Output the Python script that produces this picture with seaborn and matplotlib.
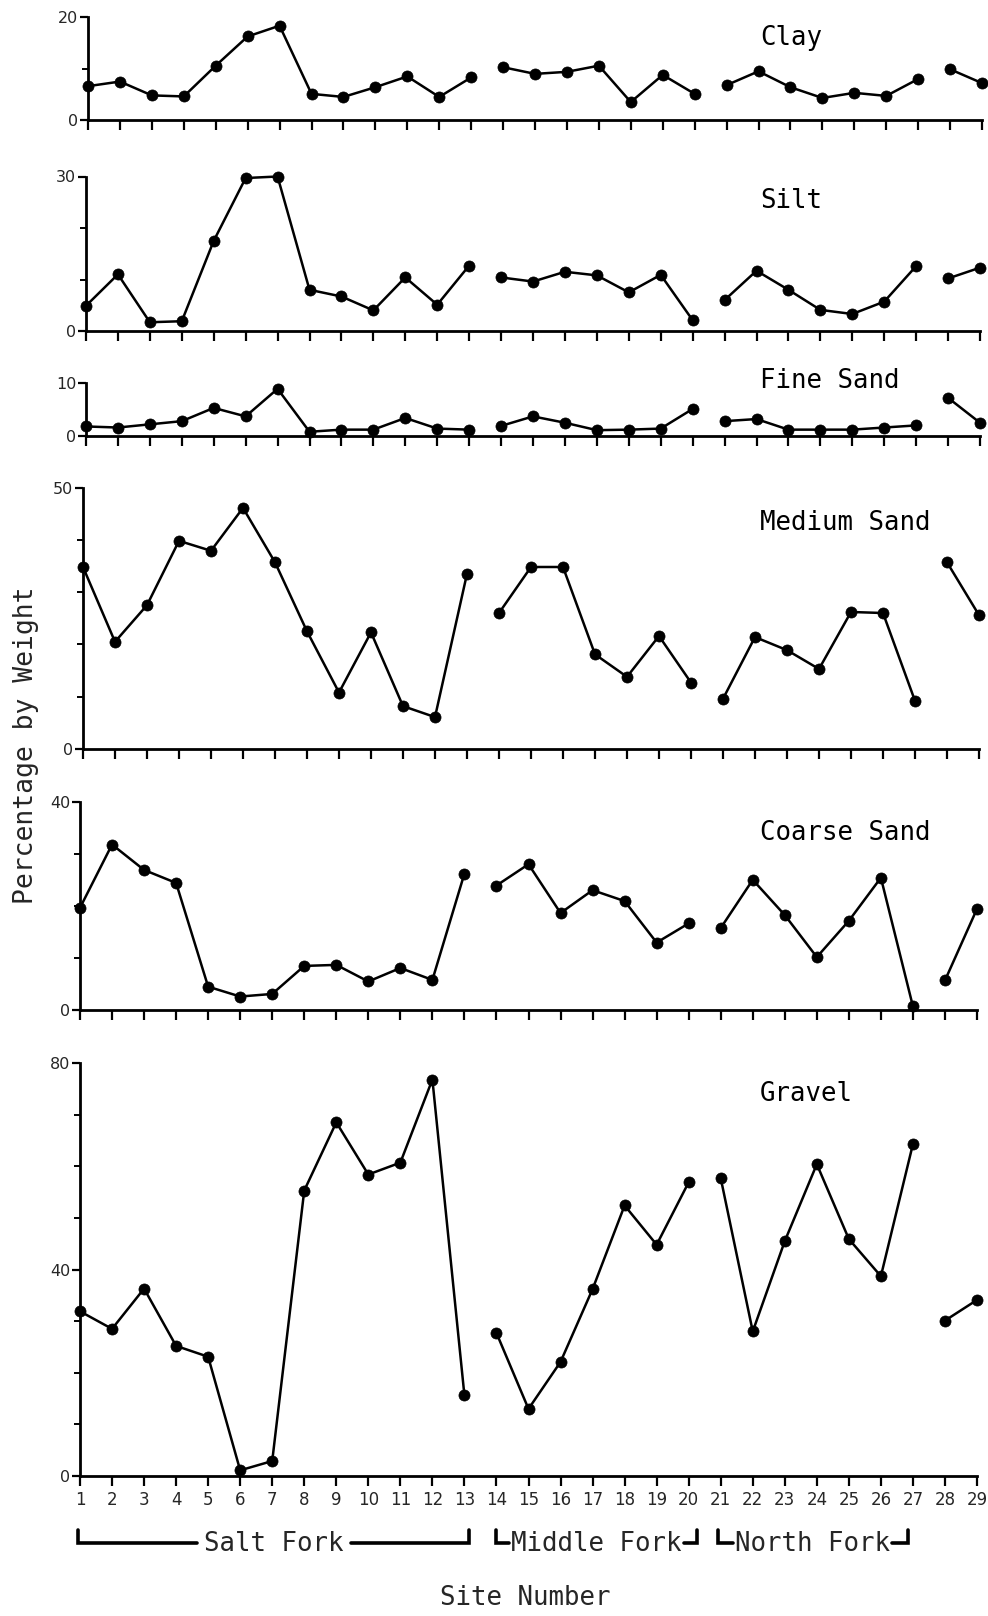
import pandas as pd
import seaborn as sns
import matplotlib.pyplot as plt
import matplotlib.transforms as mtransforms
from matplotlib.ticker import MultipleLocator

# ================= data =================
sites = list(range(1, 30))
# river reach of each site; the line is broken between reaches
reach = [1] * 13 + [2] * 7 + [3] * 7 + [4] * 2

clay = [6.6, 7.5, 4.8, 4.6, 10.6, 16.3, 18.4, 5.1, 4.5, 6.4, 8.5, 4.5, 8.3,
        10.3, 9.0, 9.4, 10.6, 3.5, 8.8, 5.1,
        6.8, 9.5, 6.4, 4.3, 5.3, 4.7, 8.0,
        9.9, 7.2]
silt = [4.9, 11.0, 1.7, 1.9, 17.5, 29.7, 30.0, 8.0, 6.7, 4.0, 10.4, 5.1, 12.7,
        10.4, 9.6, 11.5, 10.8, 7.5, 10.9, 2.1,
        6.0, 11.7, 8.0, 4.1, 3.3, 5.7, 12.6,
        10.2, 12.3]
fine_sand = [1.8, 1.6, 2.2, 2.8, 5.3, 3.7, 8.9, 0.8, 1.2, 1.2, 3.4, 1.4, 1.2,
             1.9, 3.7, 2.5, 1.1, 1.2, 1.4, 5.1,
             2.8, 3.2, 1.2, 1.2, 1.2, 1.6, 2.0,
             7.2, 2.5]
medium_sand = [34.8, 20.5, 27.5, 39.8, 37.9, 46.1, 35.7, 22.5, 10.8, 22.3, 8.2, 6.1, 33.5,
               26.0, 34.8, 34.8, 18.1, 13.8, 21.6, 12.7,
               9.6, 21.4, 18.9, 15.3, 26.2, 26.0, 9.2,
               35.7, 25.6]
coarse_sand = [19.6, 31.8, 26.9, 24.4, 4.4, 2.5, 3.0, 8.4, 8.6, 5.4, 8.0, 5.7, 26.2,
               23.9, 28.0, 18.6, 23.0, 20.9, 12.9, 16.6,
               15.7, 25.0, 18.2, 10.1, 17.1, 25.4, 0.6,
               5.6, 19.4]
gravel = [31.9, 28.5, 36.3, 25.2, 23.1, 1.1, 2.9, 55.3, 68.5, 58.4, 60.7, 76.8, 15.6,
          27.7, 13.0, 22.1, 36.2, 52.4, 44.8, 56.9,
          57.7, 28.0, 45.5, 60.4, 45.9, 38.7, 64.3,
          30.1, 34.1]

panel_names = ['Clay', 'Silt', 'Fine Sand', 'Medium Sand', 'Coarse Sand', 'Gravel']
panel_values = [clay, silt, fine_sand, medium_sand, coarse_sand, gravel]
panel_max = [20, 30, 10, 50, 40, 80]
panel_yticks = [[0, 20], [0, 30], [0, 10], [0, 50], [0, 40], [0, 40, 80]]

fork_names = ['Salt Fork', 'Middle Fork', 'North Fork']
fork_start = [0.95, 14.0, 20.9]
fork_end = [13.15, 20.25, 26.85]
fork_gap = [7, 2, 2]

# ================= layout (pixels) =================
W, H = 988, 1616
# left, top, right, bottom of each panel
boxes = [(88, 17.5, 982, 120),
         (86, 176.5, 980, 331),
         (86, 383, 980, 436),
         (83, 487.5, 979, 749),
         (80, 802, 977, 1009.5),
         (80, 1063, 977, 1476)]
label_y = [38, 201, 381, 523, 833, 1094]

sns.set_style('ticks')
plt.rcParams['font.family'] = ['DejaVu Sans Mono', 'DejaVu Sans']
plt.rcParams['axes.linewidth'] = 2

fig = plt.figure(figsize=(W / 100, H / 100), dpi=100)

axes = []
for i, (name, vals, ymax) in enumerate(zip(panel_names, panel_values, panel_max)):
    l, t, r, b = boxes[i]
    ax = fig.add_axes([l / W, 1 - b / H, (r - l) / W, (b - t) / H])
    df = pd.DataFrame({'site': sites, 'value': vals, 'reach': reach})
    sns.lineplot(data=df, x='site', y='value', units='reach', estimator=None,
                 color='black', linewidth=1.8, marker='o', markersize=8,
                 markeredgecolor='black', markeredgewidth=0.5,
                 clip_on=False, ax=ax)

    ax.set_xlim(1, 29)
    ax.set_ylim(0, ymax)
    ax.set_xticks(sites)
    ax.set_yticks(panel_yticks[i])
    ax.yaxis.set_minor_locator(MultipleLocator(10))
    ax.set_xlabel('')
    ax.set_ylabel('')
    for side in ['top', 'right']:
        ax.spines[side].set_visible(False)
    for side in ['left', 'bottom']:
        ax.spines[side].set_color('black')
        ax.spines[side].set_linewidth(2)
    ax.tick_params(axis='x', direction='out', length=7, width=1.6, color='black')
    ax.tick_params(axis='y', which='major', direction='out', length=6, width=1.6,
                   color='black', pad=1)
    ax.tick_params(axis='y', which='minor', direction='out', length=4, width=1.4,
                   color='black')
    for lab in ax.get_yticklabels():
        lab.set_fontfamily('DejaVu Sans')
        lab.set_fontsize(11.5)
    if i < len(panel_names) - 1:
        ax.set_xticklabels([])
    else:
        ax.set_xticklabels([str(s) for s in sites], fontfamily='DejaVu Sans',
                           fontsize=12)
        ax.tick_params(axis='x', pad=4)

    fig.text(760 / W, 1 - label_y[i] / H, name, fontsize=18.5,
             ha='left', va='center', color='black')
    axes.append(ax)

# y axis title and x axis title
fig.text(26 / W, 1 - 745 / H, 'Percentage by Weight', rotation=90,
         fontsize=19, ha='center', va='center')
fig.text(525 / W, 1 - 1598 / H, 'Site Number', fontsize=18.5,
         ha='center', va='center')

# fork brackets under the bottom axis
ax = axes[-1]
fig.canvas.draw()
renderer = fig.canvas.get_renderer()
trans = mtransforms.blended_transform_factory(ax.transData, fig.transFigure)
inv = ax.transData.inverted()
y_line = 1 - 1543 / H
y_top = 1 - 1530 / H
for name, x0, x1, gap in zip(fork_names, fork_start, fork_end, fork_gap):
    txt = ax.text((x0 + x1) / 2, 1 - 1551 / H, name, transform=trans,
                  ha='center', va='baseline', fontsize=18.5, clip_on=False)
    bb = txt.get_window_extent(renderer)
    tl = inv.transform((bb.x0 - gap, 0))[0]
    tr = inv.transform((bb.x1 + gap, 0))[0]
    ax.plot([x0, x0, tl], [y_top, y_line, y_line], transform=trans,
            color='black', lw=2.6, clip_on=False, solid_joinstyle='miter')
    ax.plot([tr, x1, x1], [y_line, y_line, y_top], transform=trans,
            color='black', lw=2.6, clip_on=False, solid_joinstyle='miter')

fig.savefig('out.png', dpi=100)
